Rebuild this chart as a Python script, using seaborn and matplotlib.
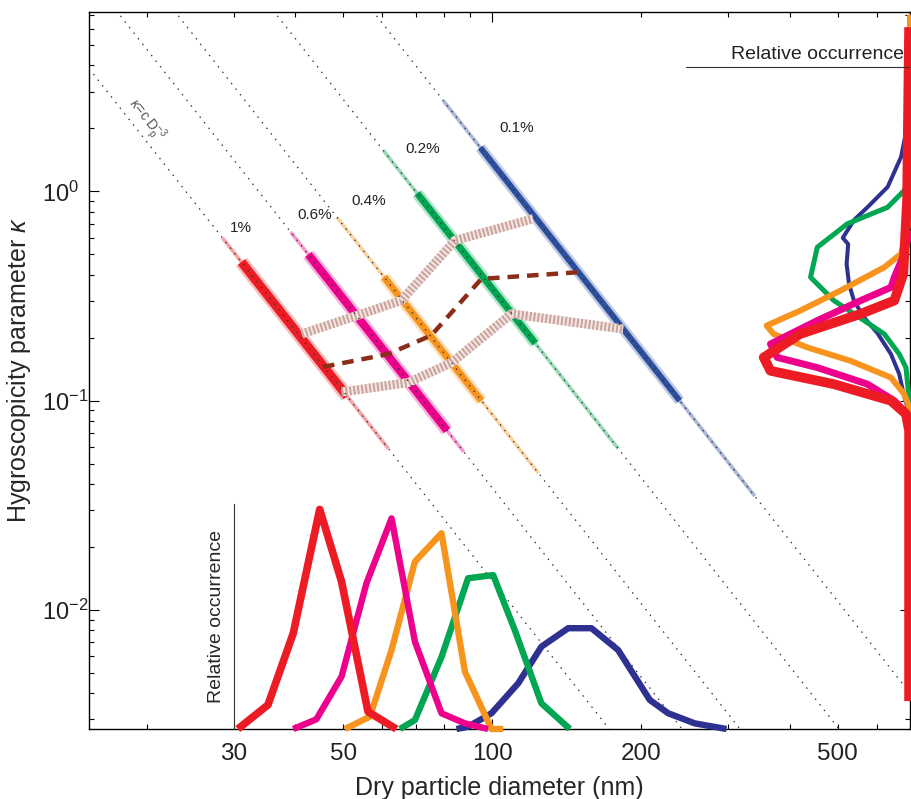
import numpy as np
import matplotlib
matplotlib.use("Agg")
import matplotlib.pyplot as plt
import matplotlib.ticker as mticker
import matplotlib.transforms as mtransforms
import seaborn as sns

# ---------------- data ----------------
supersat_pct = [1.0, 0.6, 0.4, 0.2, 0.1]
ss_labels = ["1%", "0.6%", "0.4%", "0.2%", "0.1%"]
kelvin_A_nm = 2.1  # Kelvin parameter used for the kappa = c * D^-3 lines

# kappa extent of the activation scatter along each supersaturation line
band_tail_hi = [0.60, 0.64, 0.75, 1.57, 2.72]
band_core_hi = [0.46, 0.50, 0.39, 0.98, 1.62]
band_core_lo = [0.105, 0.072, 0.10, 0.188, 0.10]
band_tail_lo = [0.059, 0.057, 0.045, 0.059, 0.035]

# percentile / median connecting lines (D in nm, kappa)
p75_D = [41.2, 53.2, 65.5, 84.1, 121.0]
p75_kappa = [0.2085, 0.255, 0.301, 0.583, 0.74]
median_D = [45.5, 61.6, 75.3, 95.1, 149.3]
median_kappa = [0.145, 0.167, 0.205, 0.382, 0.411]
p25_D = [49.6, 67.6, 82.8, 109.4, 184.1]
p25_kappa = [0.110, 0.122, 0.152, 0.260, 0.220]

# critical-diameter distributions (bottom inset), relative occurrence
dist_red_D = [30.6, 35.2, 39.6, 44.8, 49.6, 56.1, 64.0]
dist_red_occ = [0.0, 0.107, 0.425, 0.976, 0.655, 0.077, 0.0]
dist_pink_D = [39.6, 44.1, 49.6, 55.7, 62.6, 69.8, 79.0, 88.1, 98.1]
dist_pink_occ = [0.0, 0.043, 0.233, 0.648, 0.936, 0.388, 0.07, 0.025, 0.0]
dist_orange_D = [50.4, 56.6, 62.6, 69.8, 79.0, 88.1, 99.7, 105.3]
dist_orange_occ = [0.0, 0.055, 0.351, 0.744, 0.87, 0.255, 0.0, 0.0]
dist_green_D = [65.1, 69.8, 79.0, 89.4, 100.5, 111.1, 125.8, 143.6]
dist_green_occ = [0.0, 0.04, 0.32, 0.67, 0.684, 0.44, 0.114, 0.0]
dist_blue_D = [84.7, 89.4, 99.7, 112.9, 125.8, 142.5, 158.8, 179.8, 208.4, 227.0, 257.0, 297.8]
dist_blue_occ = [0.0, 0.01, 0.07, 0.203, 0.366, 0.448, 0.448, 0.351, 0.129, 0.07, 0.025, 0.0]

# kappa distributions (right inset), relative occurrence
kd_blue_kappa = [3.0, 2.03, 1.46, 1.05, 0.84, 0.73, 0.60, 0.56, 0.45, 0.36, 0.30, 0.25, 0.21, 0.167, 0.134, 0.108, 0.086, 0.06]
kd_blue_occ = [0.0, 0.013, 0.040, 0.10, 0.19, 0.25, 0.30, 0.276, 0.283, 0.272, 0.25, 0.205, 0.145, 0.085, 0.048, 0.029, 0.003, 0.0]
kd_green_kappa = [1.57, 1.13, 1.01, 0.84, 0.70, 0.541, 0.389, 0.301, 0.26, 0.2085, 0.167, 0.144, 0.10, 0.09]
kd_green_occ = [0.0, 0.01, 0.026, 0.10, 0.28, 0.414, 0.444, 0.34, 0.25, 0.115, 0.048, 0.018, 0.003, 0.0]
kd_orange_kappa = [7.0, 0.727, 0.628, 0.503, 0.434, 0.336, 0.2695, 0.2285, 0.2085, 0.18, 0.155, 0.129, 0.1076, 0.093, 0.05]
kd_orange_occ = [0.0, 0.004, 0.018, 0.04, 0.115, 0.31, 0.49, 0.64, 0.61, 0.46, 0.265, 0.085, 0.026, 0.003, 0.0]
kd_pink_kappa = [0.65, 0.503, 0.389, 0.348, 0.301, 0.2414, 0.1867, 0.161, 0.144, 0.120, 0.10, 0.0832, 0.05]
kd_pink_occ = [0.0, 0.026, 0.07, 0.085, 0.22, 0.414, 0.623, 0.593, 0.414, 0.19, 0.07, 0.0, 0.0]
kd_red_kappa = [6.09, 0.905, 0.404, 0.301, 0.26, 0.2085, 0.161, 0.139, 0.120, 0.10, 0.0864, 0.0719, 0.00367]
kd_red_occ = [0.004, 0.013, 0.03, 0.07, 0.22, 0.49, 0.653, 0.623, 0.34, 0.085, 0.018, 0.004, 0.004]

x_major = [100]
x_labelled = [30, 50, 100, 200, 500]
y_major = [0.01, 0.1, 1.0]
y_major_labels = [r"$10^{-2}$", r"$10^{-1}$", r"$10^{0}$"]

# ---------------- styles / layout ----------------
sc_colors = ["#ED1C24", "#EC008C", "#F7941D", "#00A651", "#2D4FA0"]
dist_colors = ["#ED1C24", "#EC008C", "#F7941D", "#00A651", "#2E3192"]
core_lw = [6.5, 5.8, 5.0, 5.0, 4.3]
label_pos = [(31.0, 0.668), (43.8, 0.768), (56.4, 0.896), (72.2, 1.588), (112.0, 2.01)]

sns.set_theme(style="ticks")
plt.rcParams["font.family"] = ["Liberation Sans", "DejaVu Sans"]
plt.rcParams["mathtext.fontset"] = "custom"
plt.rcParams["mathtext.rm"] = "Liberation Sans"
plt.rcParams["mathtext.it"] = "Liberation Sans:italic"
plt.rcParams["axes.edgecolor"] = "black"
plt.rcParams["text.color"] = "#222222"

W, H = 912, 799
fig = plt.figure(figsize=(W / 100, H / 100), dpi=100)
fig.patch.set_facecolor("white")
AX_L, AX_R, AX_T, AX_B = 89, 910, 12, 729
ax = fig.add_axes([AX_L / W, 1 - AX_B / H, (AX_R - AX_L) / W, (AX_B - AX_T) / H])
ax.set_xscale("log")
ax.set_yscale("log")
XLIM = (15.3, 700.0)
YLIM = (0.0027, 7.2)
ax.set_xlim(*XLIM)
ax.set_ylim(*YLIM)
ax.set_facecolor("white")


def crit_kappa(D, s_pct):
    lnS = np.log(1 + s_pct / 100.0)
    return 4 * kelvin_A_nm ** 3 / (27 * np.asarray(D) ** 3 * lnS ** 2)


def crit_D(kappa, s_pct):
    lnS = np.log(1 + s_pct / 100.0)
    return (4 * kelvin_A_nm ** 3 / (27 * np.asarray(kappa) * lnS ** 2)) ** (1 / 3)


# dotted kappa = c D^-3 lines
Dgrid = np.geomspace(XLIM[0], XLIM[1], 400)
for s in supersat_pct:
    ax.plot(Dgrid, crit_kappa(Dgrid, s), color="#333333", lw=0.9,
            ls=(0, (1.2, 4.5)), zorder=6)

# scatter bands along each line
for i, s in enumerate(supersat_pct):
    c = sc_colors[i]
    kt = [band_tail_hi[i], band_tail_lo[i]]
    kc = [band_core_hi[i], band_core_lo[i]]
    ax.plot(crit_D(kt, s), kt, color=c, lw=2.6, alpha=0.4, solid_capstyle="butt", zorder=2)
    ax.plot(crit_D(kc, s), kc, color=c, lw=core_lw[i] + 3.5, alpha=0.3, solid_capstyle="butt", zorder=2)
    ax.plot(crit_D(kc, s), kc, color=c, lw=core_lw[i], solid_capstyle="butt", zorder=3)
    ax.text(*label_pos[i], ss_labels[i], fontsize=11, ha="center", va="center", zorder=8)

# hatched percentile lines
for Ds, ks in [(p75_D, p75_kappa), (p25_D, p25_kappa)]:
    ax.plot(Ds, ks, color="#f3e6e3", lw=6.5, solid_capstyle="butt", zorder=4)
    ln, = ax.plot(Ds, ks, color="#c9a39c", lw=6.5, solid_capstyle="butt", zorder=4.1)
    ln.set_dashes((0.22, 0.22))

# median dashed line
sns.lineplot(x=median_D, y=median_kappa, ax=ax, color="#8C2D19", lw=3.2,
             sort=False, estimator=None, zorder=7)
ax.lines[-1].set_dashes((2.6, 1.8))

# kappa = c Dp^-3 label
ax.text(19.9, 2.19, r"$\kappa$=c $\mathrm{D}_\mathrm{p}^{-3}$", fontsize=10, color="#555555",
        rotation=-51.7, rotation_mode="anchor", ha="center", va="center", zorder=8)

# axes styling
ax.xaxis.set_major_locator(mticker.FixedLocator(x_major))
ax.xaxis.set_major_formatter(mticker.FuncFormatter(lambda v, p: f"{v:g}"))
ax.xaxis.set_minor_locator(mticker.LogLocator(base=10, subs=np.arange(2, 10)))
ax.xaxis.set_minor_formatter(mticker.FuncFormatter(
    lambda v, p: f"{v:g}" if any(abs(v - t) < 1e-6 * t for t in x_labelled) else ""))
ax.set_yticks(y_major)
ax.set_yticklabels(y_major_labels, ha="left")
ax.yaxis.set_minor_locator(mticker.LogLocator(base=10, subs=np.arange(2, 10)))
ax.yaxis.set_minor_formatter(mticker.NullFormatter())
ax.set_ylim(*YLIM)
ax.tick_params(which="both", direction="in", top=True, right=True, width=0.8,
               colors="black", labelcolor="#222222")
ax.tick_params(axis="x", which="both", labelsize=17.5, pad=10)
ax.tick_params(axis="y", which="both", labelsize=17, pad=34)
ax.tick_params(which="major", length=7)
ax.tick_params(which="minor", length=3.5)
for sp in ax.spines.values():
    sp.set_linewidth(1.0)
    sp.set_color("black")
ax.set_xlabel("Dry particle diameter (nm)", fontsize=18, labelpad=8)
ax.set_ylabel(r"Hygroscopicity parameter $\kappa$", fontsize=18, labelpad=6)

# ---------------- bottom inset: size distributions ----------------
frac30 = np.log10(30 / XLIM[0]) / np.log10(XLIM[1] / XLIM[0])
bl = (AX_L + frac30 * (AX_R - AX_L)) / W
ax_b = fig.add_axes([bl, 1 - AX_B / H, AX_R / W - bl, 225 / H])
ax_b.patch.set_alpha(0)
ax_b.set_xscale("log")
ax_b.set_xlim(30, XLIM[1])
ax_b.set_ylim(0, 1)
for sp in ["top", "right", "bottom"]:
    ax_b.spines[sp].set_visible(False)
ax_b.spines["left"].set_linewidth(0.8)
ax_b.spines["left"].set_color("#333333")
ax_b.xaxis.set_major_locator(mticker.NullLocator())
ax_b.xaxis.set_minor_locator(mticker.NullLocator())
ax_b.yaxis.set_major_locator(mticker.NullLocator())
ax_b.set_ylabel("Relative occurrence", fontsize=14, labelpad=6)
dists = [(dist_blue_D, dist_blue_occ, 4), (dist_green_D, dist_green_occ, 3),
         (dist_orange_D, dist_orange_occ, 2), (dist_pink_D, dist_pink_occ, 1),
         (dist_red_D, dist_red_occ, 0)]
for Ds, occ, ci in dists:
    sns.lineplot(x=Ds, y=occ, ax=ax_b, color=dist_colors[ci], lw=5.5 if ci == 0 else 4.6,
                 sort=False, estimator=None, clip_on=False, solid_capstyle="butt")

# ---------------- right inset: kappa distributions ----------------
RL = 686
ax_r = fig.add_axes([RL / W, 1 - AX_B / H, (AX_R - RL) / W, (AX_B - AX_T) / H])
ax_r.patch.set_alpha(0)
ax_r.set_yscale("log")
ax_r.set_ylim(*YLIM)
ax_r.set_xlim(1.0, 0.0)
for sp in ax_r.spines.values():
    sp.set_visible(False)
ax_r.xaxis.set_major_locator(mticker.NullLocator())
ax_r.yaxis.set_major_locator(mticker.NullLocator())
ax_r.yaxis.set_minor_locator(mticker.NullLocator())
kd = [(kd_blue_kappa, kd_blue_occ, 4, 2.9), (kd_green_kappa, kd_green_occ, 3, 3.6),
      (kd_orange_kappa, kd_orange_occ, 2, 4.3), (kd_pink_kappa, kd_pink_occ, 1, 5.0),
      (kd_red_kappa, kd_red_occ, 0, 7.0)]
for ks, occ, ci, lw in kd:
    sns.lineplot(x=occ, y=ks, ax=ax_r, color=dist_colors[ci], lw=lw, sort=False,
                 estimator=None, clip_on=False, orient="y", solid_capstyle="butt")
KLINE = 3.92
ax_r.axhline(KLINE, color="#333333", lw=0.8)
trans = mtransforms.blended_transform_factory(ax_r.transAxes, ax_r.transData)
ax_r.annotate("Relative occurrence", xy=(0.975, KLINE), xycoords=trans,
              xytext=(0, 3), textcoords="offset points", ha="right", va="bottom",
              fontsize=14)

fig.savefig("out.png", dpi=100, facecolor="white")
